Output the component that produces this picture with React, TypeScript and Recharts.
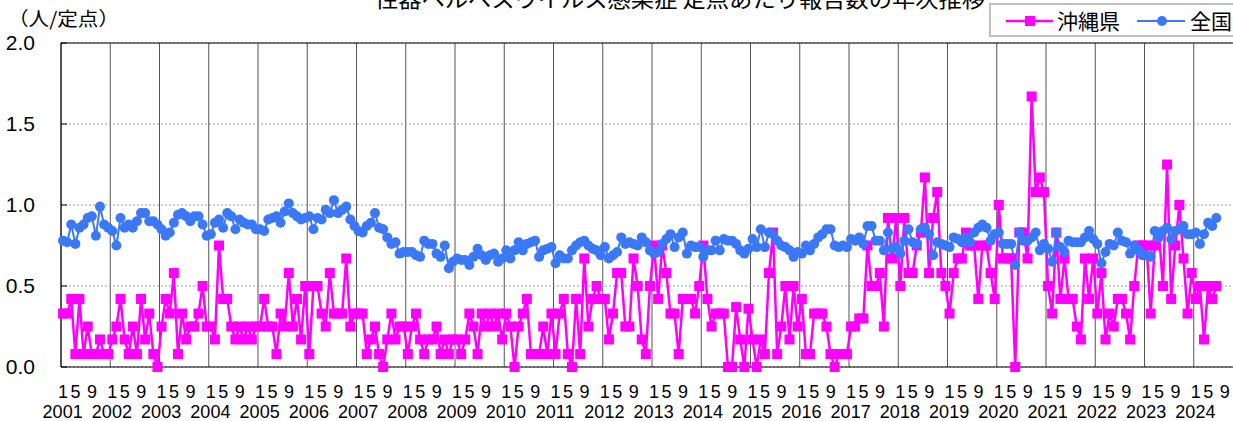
import React from 'react';
import { LineChart, Line, XAxis, YAxis, CartesianGrid, ReferenceLine } from 'recharts';

// 年 (x軸のカテゴリ)
const years = [
  '2001', '2002', '2003', '2004', '2005', '2006', '2007', '2008', '2009', '2010', '2011', '2012',
  '2013', '2014', '2015', '2016', '2017', '2018', '2019', '2020', '2021', '2022', '2023', '2024',
];
const monthLabels = ['1', '5', '9'];
const yTicks = [0, 0.5, 1.0, 1.5, 2.0];

// 沖縄県 定点あたり報告数 (月別, 2001/1 - 2024/6)
const okinawa = [
  0.33, 0.33, 0.42, 0.08, 0.42, 0.08, 0.25, 0.08, 0.08, 0.17, 0.08, 0.08, // 2001
  0.17, 0.25, 0.42, 0.17, 0.08, 0.25, 0.08, 0.42, 0.17, 0.33, 0.08, 0.0, // 2002
  0.25, 0.42, 0.33, 0.58, 0.08, 0.33, 0.17, 0.25, 0.25, 0.33, 0.5, 0.25, // 2003
  0.25, 0.17, 0.75, 0.42, 0.42, 0.25, 0.17, 0.25, 0.17, 0.25, 0.17, 0.25, // 2004
  0.25, 0.42, 0.25, 0.25, 0.08, 0.33, 0.25, 0.58, 0.25, 0.42, 0.17, 0.5, // 2005
  0.08, 0.5, 0.5, 0.33, 0.25, 0.58, 0.33, 0.33, 0.33, 0.67, 0.25, 0.33, // 2006
  0.33, 0.33, 0.08, 0.17, 0.25, 0.08, 0.0, 0.17, 0.33, 0.17, 0.25, 0.25, // 2007
  0.08, 0.25, 0.33, 0.17, 0.08, 0.17, 0.17, 0.25, 0.08, 0.17, 0.08, 0.17, // 2008
  0.17, 0.08, 0.17, 0.33, 0.25, 0.08, 0.33, 0.25, 0.33, 0.25, 0.33, 0.17, // 2009
  0.33, 0.25, 0.0, 0.25, 0.33, 0.42, 0.08, 0.08, 0.08, 0.25, 0.08, 0.33, // 2010
  0.08, 0.33, 0.42, 0.08, 0.0, 0.42, 0.08, 0.67, 0.25, 0.42, 0.5, 0.42, // 2011
  0.42, 0.17, 0.33, 0.58, 0.58, 0.25, 0.25, 0.67, 0.5, 0.17, 0.08, 0.5, // 2012
  0.75, 0.42, 0.75, 0.58, 0.33, 0.33, 0.08, 0.42, 0.42, 0.42, 0.33, 0.5, // 2013
  0.75, 0.42, 0.25, 0.33, 0.33, 0.33, 0.0, 0.0, 0.37, 0.17, 0.0, 0.36, // 2014
  0.17, 0.0, 0.17, 0.08, 0.58, 0.83, 0.08, 0.25, 0.5, 0.17, 0.5, 0.25, // 2015
  0.42, 0.08, 0.08, 0.33, 0.33, 0.33, 0.25, 0.08, 0.0, 0.08, 0.08, 0.08, // 2016
  0.25, 0.25, 0.3, 0.3, 0.75, 0.5, 0.5, 0.58, 0.25, 0.92, 0.67, 0.92, // 2017
  0.5, 0.92, 0.58, 0.58, 0.75, 0.83, 1.17, 0.58, 0.92, 1.08, 0.58, 0.5, // 2018
  0.33, 0.58, 0.67, 0.67, 0.83, 0.75, 0.75, 0.42, 0.75, 0.75, 0.58, 0.42, // 2019
  1.0, 0.67, 0.67, 0.67, 0.0, 0.83, 0.83, 0.67, 1.67, 1.08, 1.17, 1.08, // 2020
  0.5, 0.33, 0.83, 0.42, 0.67, 0.42, 0.42, 0.25, 0.17, 0.67, 0.42, 0.67, // 2021
  0.33, 0.58, 0.17, 0.33, 0.25, 0.42, 0.42, 0.33, 0.17, 0.5, 0.75, 0.75, // 2022
  0.75, 0.33, 0.75, 0.83, 0.5, 1.25, 0.42, 0.75, 1.0, 0.67, 0.33, 0.58, // 2023
  0.42, 0.5, 0.17, 0.5, 0.42, 0.5, // 2024
];

// 全国 定点あたり報告数 (月別, 2001/1 - 2024/6)
const zenkoku = [
  0.78, 0.77, 0.88, 0.76, 0.86, 0.88, 0.92, 0.93, 0.81, 0.99, 0.88, 0.86, // 2001
  0.84, 0.75, 0.92, 0.86, 0.88, 0.86, 0.9, 0.95, 0.95, 0.9, 0.9, 0.88, // 2002
  0.85, 0.81, 0.83, 0.89, 0.94, 0.95, 0.93, 0.9, 0.93, 0.93, 0.88, 0.81, // 2003
  0.82, 0.89, 0.91, 0.86, 0.95, 0.93, 0.85, 0.91, 0.89, 0.88, 0.88, 0.85, // 2004
  0.85, 0.84, 0.91, 0.92, 0.93, 0.89, 0.96, 1.01, 0.95, 0.93, 0.91, 0.92, // 2005
  0.93, 0.85, 0.92, 0.91, 0.97, 0.95, 1.03, 0.95, 0.97, 0.99, 0.91, 0.87, // 2006
  0.84, 0.83, 0.87, 0.89, 0.95, 0.86, 0.85, 0.8, 0.76, 0.77, 0.7, 0.71, // 2007
  0.71, 0.71, 0.69, 0.68, 0.78, 0.76, 0.76, 0.7, 0.68, 0.75, 0.61, 0.65, // 2008
  0.67, 0.66, 0.66, 0.63, 0.68, 0.73, 0.69, 0.66, 0.69, 0.7, 0.65, 0.67, // 2009
  0.72, 0.67, 0.72, 0.77, 0.72, 0.76, 0.77, 0.78, 0.68, 0.72, 0.73, 0.74, // 2010
  0.64, 0.69, 0.67, 0.67, 0.72, 0.75, 0.77, 0.78, 0.75, 0.73, 0.72, 0.69, // 2011
  0.74, 0.67, 0.69, 0.71, 0.8, 0.76, 0.77, 0.76, 0.75, 0.8, 0.77, 0.72, // 2012
  0.7, 0.71, 0.76, 0.79, 0.82, 0.74, 0.8, 0.83, 0.7, 0.75, 0.74, 0.74, // 2013
  0.68, 0.72, 0.72, 0.78, 0.72, 0.79, 0.78, 0.78, 0.76, 0.72, 0.7, 0.73, // 2014
  0.79, 0.74, 0.85, 0.74, 0.83, 0.82, 0.78, 0.75, 0.74, 0.72, 0.68, 0.71, // 2015
  0.7, 0.75, 0.72, 0.76, 0.8, 0.82, 0.85, 0.85, 0.75, 0.74, 0.75, 0.74, // 2016
  0.79, 0.78, 0.8, 0.76, 0.87, 0.87, 0.78, 0.78, 0.72, 0.83, 0.73, 0.74, // 2017
  0.7, 0.78, 0.85, 0.77, 0.76, 0.85, 0.86, 0.82, 0.69, 0.77, 0.76, 0.75, // 2018
  0.74, 0.8, 0.79, 0.77, 0.8, 0.77, 0.83, 0.86, 0.88, 0.86, 0.78, 0.82, // 2019
  0.83, 0.76, 0.76, 0.76, 0.63, 0.83, 0.78, 0.78, 0.8, 0.83, 0.72, 0.76, // 2020
  0.73, 0.65, 0.83, 0.74, 0.71, 0.78, 0.77, 0.77, 0.77, 0.8, 0.84, 0.79, // 2021
  0.76, 0.64, 0.71, 0.76, 0.75, 0.83, 0.78, 0.77, 0.7, 0.75, 0.72, 0.69, // 2022
  0.69, 0.68, 0.84, 0.8, 0.84, 0.86, 0.79, 0.84, 0.85, 0.87, 0.82, 0.82, // 2023
  0.83, 0.76, 0.82, 0.89, 0.87, 0.92, // 2024
];

const MAGENTA = '#FF00FF';
const BLUE = '#3B78F7';
const FONT = "'Liberation Sans', 'Noto Sans CJK JP', sans-serif";
const JP_FONT = "'Noto Sans CJK JP', sans-serif";

const CHART_W = 1260;
const CHART_H = 421;
const PLOT_LEFT = 61;
const PLOT_RIGHT = 1243;
const PLOT_TOP = 43;
const PLOT_BOTTOM = 367;
const MONTHS = years.length * 12;
const PM = (PLOT_RIGHT - PLOT_LEFT) / MONTHS;
const monthLabelOffsets = [0.5, 3.55, 7.55];

const data = okinawa.map((v, i) => ({ x: i + 0.5, okinawa: v, zenkoku: zenkoku[i] }));
const yearTicks = Array.from({ length: years.length + 1 }, (_, i) => i * 12);

function XTick(props: any) {
  const { x, payload } = props;
  const yi = Math.round(payload.value / 12);
  if (yi >= years.length) return <g />;
  return (
    <g fontFamily={FONT} fontSize={18} fill="#000">
      {monthLabels.map((m, k) => (
        <text key={m} x={x + monthLabelOffsets[k] * PM} y={PLOT_BOTTOM + 31} textAnchor="middle">
          {m}
        </text>
      ))}
      <text x={x + 0.4 * PM} y={PLOT_BOTTOM + 51} textAnchor="middle">
        {years[yi]}
      </text>
    </g>
  );
}

function YTick(props: any) {
  const { y, payload } = props;
  return (
    <g>
      <line x1={PLOT_LEFT} x2={PLOT_LEFT + 6} y1={y} y2={y} stroke="#000" />
      <text x={35} y={y + 7} textAnchor="end" fontFamily={FONT} fontSize={21} fill="#000">
        {payload.value.toFixed(1)}
      </text>
    </g>
  );
}

function SquareDot(props: any) {
  const { cx, cy } = props;
  if (cx == null || cy == null) return <g />;
  return <rect x={cx - 5} y={cy - 5} width={10} height={10} fill={MAGENTA} />;
}

export default function App() {
  return (
    <div
      style={{
        position: 'absolute',
        left: 0,
        top: 0,
        width: 1233,
        height: 421,
        overflow: 'hidden',
        background: '#fff',
      }}
    >
      <LineChart
        width={CHART_W}
        height={CHART_H}
        data={data}
        margin={{ top: PLOT_TOP, right: CHART_W - PLOT_RIGHT, bottom: 0, left: 11 }}
      >
        <CartesianGrid horizontal={false} stroke="#555" />
        <CartesianGrid vertical={false} stroke="#999" strokeDasharray="2 2" />
        <XAxis
          dataKey="x"
          type="number"
          domain={[0, MONTHS]}
          ticks={yearTicks}
          interval={0}
          height={CHART_H - PLOT_BOTTOM}
          axisLine={{ stroke: '#000' }}
          tickLine={false}
          tick={<XTick />}
        />
        <YAxis
          domain={[0, 2]}
          ticks={yTicks}
          width={50}
          axisLine={{ stroke: '#000' }}
          tickLine={false}
          tick={<YTick />}
        />
        <ReferenceLine y={2} stroke="#000" />
        <Line
          dataKey="okinawa"
          stroke={MAGENTA}
          strokeWidth={2.5}
          dot={<SquareDot />}
          isAnimationActive={false}
        />
        <Line
          dataKey="zenkoku"
          stroke={BLUE}
          strokeWidth={2}
          dot={{ r: 5, fill: BLUE, stroke: 'none' }}
          isAnimationActive={false}
        />
      </LineChart>
      <svg
        width={1233}
        height={421}
        style={{ position: 'absolute', left: 0, top: 0, pointerEvents: 'none' }}
      >
        <text x={375} y={7} fontFamily={JP_FONT} fontSize={22} textLength={610} lengthAdjust="spacingAndGlyphs">
          性器ヘルペスウイルス感染症 定点あたり報告数の年次推移
        </text>
        <text x={8} y={26} fontFamily={JP_FONT} fontSize={19} textLength={111} lengthAdjust="spacingAndGlyphs">
          （人/定点）
        </text>
        <rect x={990} y={4} width={270} height={32} fill="#fff" stroke="#c0c0c0" strokeWidth={2} />
        <line x1={1006} x2={1053} y1={21} y2={21} stroke={MAGENTA} strokeWidth={2.5} />
        <rect x={1025} y={16} width={10} height={10} fill={MAGENTA} />
        <text x={1057} y={29} fontFamily={JP_FONT} fontSize={21}>
          沖縄県
        </text>
        <line x1={1137} x2={1185} y1={21} y2={21} stroke={BLUE} strokeWidth={2} />
        <circle cx={1162} cy={21} r={5} fill={BLUE} />
        <text x={1190} y={29} fontFamily={JP_FONT} fontSize={21}>
          全国
        </text>
      </svg>
    </div>
  );
}
